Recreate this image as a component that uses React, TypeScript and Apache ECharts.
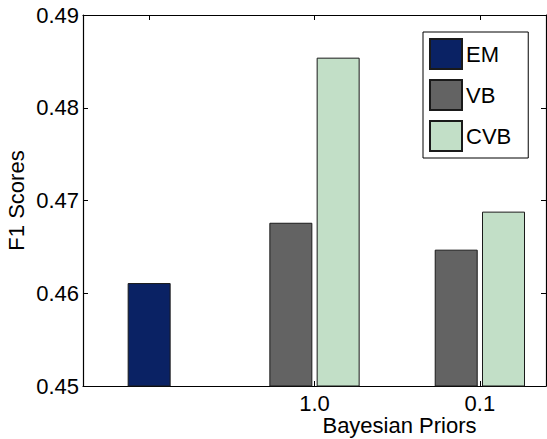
import React, { useEffect, useRef } from "react";
import * as echarts from "echarts";

const categories = ["", "1.0", "0.1"];
const categoryPositions = [1, 2, 3];
const emValues: (number | null)[] = [0.4611, null, null];
const vbValues: (number | null)[] = [null, 0.4676, 0.4647];
const cvbValues: (number | null)[] = [null, 0.4854, 0.4688];
const yTicks = [0.45, 0.46, 0.47, 0.48, 0.49];

const FONT = "'Liberation Sans', Arial, Helvetica, sans-serif";
const FS = 22;

function toPairs(values: (number | null)[]) {
  const out: [number, number][] = [];
  values.forEach((v, i) => {
    if (v !== null) out.push([categoryPositions[i], v]);
  });
  return out;
}

export default function App() {
  const ref = useRef<HTMLDivElement>(null);
  useEffect(() => {
    if (!ref.current) return;
    const chart = echarts.init(ref.current, undefined, { renderer: "svg" });
    const axisLine = { show: true, lineStyle: { color: "#000", width: 1.2 } };
    const labelFmt = (v: number) => {
      const idx = categoryPositions.indexOf(Math.round(v));
      return idx >= 0 ? categories[idx] : "";
    };
    chart.setOption({
      animation: false,
      textStyle: { fontFamily: FONT },
      grid: { left: 83, top: 15, right: 1, bottom: 53, containLabel: false, outerBoundsMode: "none" },
      legend: {
        orient: "vertical",
        left: 423,
        top: 32,
        padding: [6, 17, 6, 6],
        itemWidth: 32,
        itemHeight: 30,
        itemGap: 9,
        icon: "rect",
        borderColor: "#000",
        borderWidth: 1,
        backgroundColor: "#fff",
        textStyle: { fontSize: FS, color: "#000", fontFamily: FONT, padding: [0, 0, 0, -1] },
        data: ["EM", "VB", "CVB"],
      },
      xAxis: [
        {
          type: "value",
          position: "bottom",
          min: 0.6,
          max: 3.4,
          name: "Bayesian Priors",
          nameLocation: "middle",
          nameGap: 28,
          nameMoveOverlap: false,
          nameTextStyle: { fontSize: FS, color: "#000", fontFamily: FONT, padding: [0, 0, 0, 170] },
          axisLine,
          splitLine: { show: false },
          axisTick: { show: true, inside: true, length: 5, customValues: categoryPositions, lineStyle: { color: "#000" } },
          axisLabel: {
            customValues: [2, 3],
            formatter: labelFmt,
            fontSize: FS,
            color: "#000",
            fontFamily: FONT,
            margin: 6,
          },
        },
        {
          type: "value",
          position: "top",
          min: 0.6,
          max: 3.4,
          axisLine,
          splitLine: { show: false },
          axisTick: { show: true, inside: true, length: 5, customValues: categoryPositions, lineStyle: { color: "#000" } },
          axisLabel: { show: false },
        },
      ],
      yAxis: [
        {
          type: "value",
          position: "left",
          min: 0.45,
          max: 0.49,
          interval: 0.01,
          name: "F1 Scores",
          nameLocation: "middle",
          nameGap: 56,
          nameMoveOverlap: false,
          nameTextStyle: { fontSize: FS, color: "#000", fontFamily: FONT },
          axisLine,
          splitLine: { show: false },
          axisTick: { show: true, inside: true, length: 5, lineStyle: { color: "#000" } },
          axisLabel: {
            formatter: (v: number) => v.toFixed(2),
            fontSize: FS,
            color: "#000",
            fontFamily: FONT,
            margin: 4,
            customValues: yTicks,
          },
        },
        {
          type: "value",
          position: "right",
          min: 0.45,
          max: 0.49,
          interval: 0.01,
          axisLine,
          splitLine: { show: false },
          axisTick: { show: true, inside: true, length: 5, lineStyle: { color: "#000" } },
          axisLabel: { show: false },
        },
      ],
      series: [
        {
          name: "EM",
          type: "bar",
          xAxisIndex: 1,
          yAxisIndex: 0,
          barWidth: 43,
          data: toPairs(emValues),
          itemStyle: { color: "#0a2264", borderColor: "#1a1a1a", borderWidth: 1 },
        },
        {
          name: "VB",
          type: "bar",
          xAxisIndex: 0,
          yAxisIndex: 0,
          barWidth: 43,
          barGap: "10%",
          data: toPairs(vbValues),
          itemStyle: { color: "#636363", borderColor: "#1a1a1a", borderWidth: 1 },
        },
        {
          name: "CVB",
          type: "bar",
          xAxisIndex: 0,
          yAxisIndex: 0,
          barWidth: 43,
          barGap: "10%",
          data: toPairs(cvbValues),
          itemStyle: { color: "#c2dfc7", borderColor: "#1a1a1a", borderWidth: 1 },
        },
      ],
    });
    return () => chart.dispose();
  }, []);
  return (
    <div
      ref={ref}
      style={{ position: "fixed", left: 0, top: 0, width: 547, height: 439, background: "#fff" }}
    />
  );
}
